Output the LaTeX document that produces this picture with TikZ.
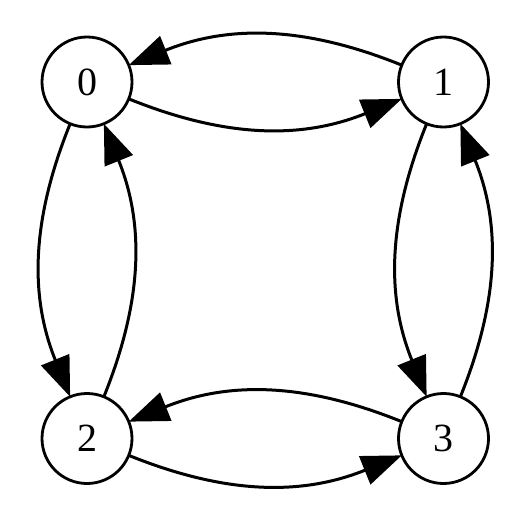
\documentclass[tikz,border=0pt]{standalone}
\usepackage{fontspec}
\setmainfont{Liberation Serif}
\usetikzlibrary{positioning,arrows.meta}

\tikzset{
	state/.style={
		draw,
		circle,
		line width=2.8pt,
		minimum size=90pt,
		inner sep=0pt,
		outer sep=0pt,
		font=\fontsize{40}{48}\selectfont
	},
	link/.style={
		-{Triangle[length=40pt,width=30pt]},
		line width=3pt,
		bend right=22
	}
}

\begin{document}
\begin{tikzpicture}[node distance=266.5pt]
	
	\useasboundingbox (0pt,0pt) rectangle (528pt,-514pt);
	
	\node[state] (N0) at (87pt,-82pt) {0};
	\node[state, right=of N0] (N1) {1};
	\node[state, below=of N0] (N2) {2};
	\node[state, right=of N2] (N3) {3};
	
	\draw[link] (N0) to (N1);
	\draw[link] (N1) to (N0);
	\draw[link] (N0) to (N2);
	\draw[link] (N2) to (N0);
	\draw[link] (N1) to (N3);
	\draw[link] (N3) to (N1);
	\draw[link] (N2) to (N3);
	\draw[link] (N3) to (N2);
	
\end{tikzpicture}
\end{document}
